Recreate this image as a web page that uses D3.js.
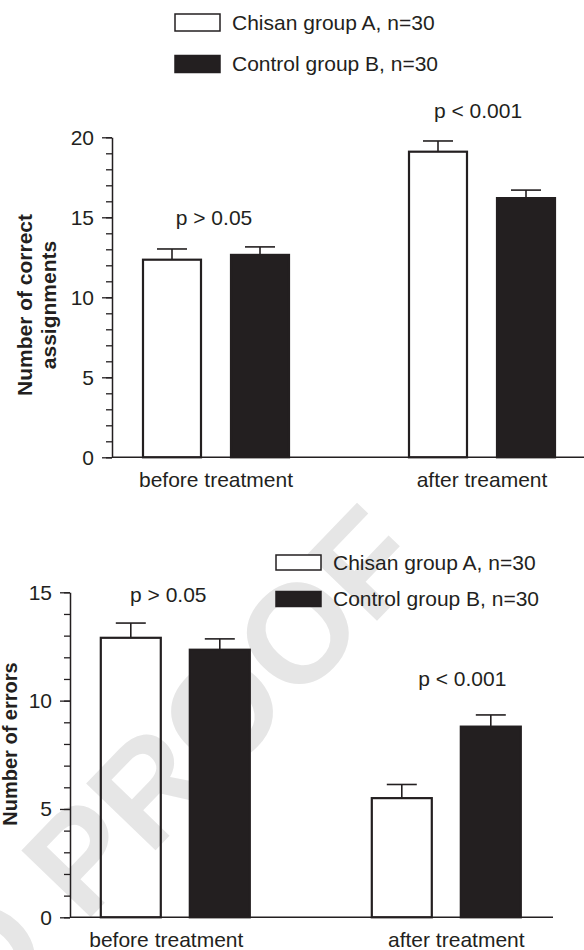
<!DOCTYPE html>
<html>
<head>
<meta charset="utf-8">
<script src="https://cdn.jsdelivr.net/npm/d3@7"></script>
<style>
  body { margin: 0; background: #fff; }
  svg { display: block; font-family: "Liberation Sans", Arial, Helvetica, sans-serif; }
</style>
</head>
<body>
<div id="graphicContainer"></div>
<script>

// series and categories
const series = ["Chisan group A, n=30", "Control group B, n=30"]
const groupsTop = ["before treatment", "after treament"]
const groupsBottom = ["before treatment", "after treatment"]

// number of correct assignments (mean, error)
const correctA = [12.35, 19.1]
const correctB = [12.65, 16.2]
const correctErrA = [0.67, 0.67]
const correctErrB = [0.5, 0.5]

// number of errors (mean, error)
const errorsA = [12.9, 5.5]
const errorsB = [12.35, 8.8]
const errorsErrA = [0.68, 0.63]
const errorsErrB = [0.5, 0.54]

const pTop = ["p > 0.05", "p < 0.001"]
const pBottom = ["p > 0.05", "p < 0.001"]

const ticksTop = [0, 5, 10, 15, 20]
const ticksBottom = [0, 5, 10, 15]

const ink = "#231f20"
const width = 584
const height = 950

const svg = d3.select("#graphicContainer").append("svg")
  .attr("width", width)
  .attr("height", height)

svg.append("rect").attr("width", width).attr("height", height).attr("fill", "#fff")

// proof watermark, sits under everything
svg.append("text")
  .attr("transform", "translate(430,566) rotate(-46)")
  .attr("text-anchor", "end")
  .attr("fill", "#e6e6e6")
  .style("font-size", "140px")
  .style("font-weight", "bold")
  .text("UNCORRECTED PROOF")

function drawPanel(cfg) {

  const g = svg.append("g")

  const y = d3.scaleLinear()
    .domain([0, d3.max(cfg.ticks)])
    .range([cfg.bottom, cfg.top])

  const x0 = d3.scalePoint()
    .domain(cfg.groups)
    .range(cfg.centers)

  const x1 = d3.scaleBand()
    .domain(series)
    .range([-cfg.span / 2, cfg.span / 2])
    .paddingInner(cfg.pad)

  const rows = []
  cfg.groups.forEach((grp, i) => {
    rows.push({ grp, key: series[0], v: cfg.a[i], e: cfg.ea[i] })
    rows.push({ grp, key: series[1], v: cfg.b[i], e: cfg.eb[i] })
  })

  // minor ticks + axis line
  const minor = d3.axisLeft(y)
    .tickValues(d3.range(0, d3.max(cfg.ticks) + 1))
    .tickSize(6)
    .tickSizeOuter(0)
    .tickFormat("")

  const axisG = g.append("g")
    .attr("transform", `translate(${cfg.axisX},0)`)
    .call(minor)

  axisG.select(".domain").attr("stroke", ink).attr("stroke-width", 1.5)
  axisG.selectAll(".tick line").attr("stroke", ink).attr("stroke-width", 1.3)

  const major = d3.axisLeft(y)
    .tickValues(cfg.ticks)
    .tickSize(10)
    .tickPadding(8)

  const majorG = g.append("g")
    .attr("transform", `translate(${cfg.axisX},0)`)
    .call(major)

  majorG.select(".domain").remove()
  majorG.selectAll(".tick line").attr("stroke", ink).attr("stroke-width", 1.3)
  majorG.selectAll(".tick text")
    .attr("fill", ink)
    .style("font-size", "21px")
    .style("font-family", "'Liberation Sans', Arial, sans-serif")

  // baseline
  g.append("line")
    .attr("x1", cfg.axisX)
    .attr("x2", cfg.lineEnd)
    .attr("y1", y(0))
    .attr("y2", y(0))
    .attr("stroke", ink)
    .attr("stroke-width", 1.5)

  // bars
  g.selectAll(".bar")
    .data(rows)
    .enter()
    .append("rect")
    .attr("class", "bar")
    .attr("x", d => x0(d.grp) + x1(d.key))
    .attr("y", d => y(d.v))
    .attr("width", x1.bandwidth())
    .attr("height", d => y(0) - y(d.v))
    .attr("fill", d => d.key == series[0] ? "none" : ink)
    .attr("stroke", ink)
    .attr("stroke-width", 2.2)

  // error bars (upper half only)
  const capHalf = 15
  rows.forEach(d => {
    const cx = x0(d.grp) + x1(d.key) + x1.bandwidth() / 2
    g.append("line")
      .attr("x1", cx).attr("x2", cx)
      .attr("y1", y(d.v)).attr("y2", y(d.v + d.e))
      .attr("stroke", ink).attr("stroke-width", 1.6)
    g.append("line")
      .attr("x1", cx - capHalf).attr("x2", cx + capHalf)
      .attr("y1", y(d.v + d.e)).attr("y2", y(d.v + d.e))
      .attr("stroke", ink).attr("stroke-width", 1.6)
  })

  // category labels
  g.selectAll(".cat")
    .data(cfg.groups)
    .enter()
    .append("text")
    .attr("class", "cat")
    .attr("x", (d, i) => x0(d) + cfg.labelShift[i])
    .attr("y", y(0) + 30)
    .attr("text-anchor", "middle")
    .attr("fill", ink)
    .style("font-size", "21px")
    .text(d => d)

  // p-values above each group
  g.selectAll(".pval")
    .data(cfg.groups)
    .enter()
    .append("text")
    .attr("class", "pval")
    .attr("x", (d, i) => x0(d) + cfg.pShift[i])
    .attr("y", (d, i) => y(Math.max(cfg.a[i] + cfg.ea[i], cfg.b[i] + cfg.eb[i])) - cfg.pGap[i])
    .attr("text-anchor", "middle")
    .attr("fill", ink)
    .style("font-size", "21px")
    .text((d, i) => cfg.p[i])

  // y title
  const titleG = g.append("g")
  cfg.title.forEach((line, i) => {
    titleG.append("text")
      .attr("transform", `translate(${cfg.titleX[i]},${cfg.titleY}) rotate(-90)`)
      .attr("text-anchor", "middle")
      .attr("dy", "0.35em")
      .attr("fill", ink)
      .style("font-size", cfg.titleSize)
      .style("font-weight", "bold")
      .text(line)
  })

  // legend
  const leg = g.append("g")
  series.forEach((key, i) => {
    const ly = cfg.legendY[i]
    leg.append("rect")
      .attr("x", cfg.legendX)
      .attr("y", ly - cfg.legendBox / 2)
      .attr("width", 45)
      .attr("height", cfg.legendBox)
      .attr("fill", i == 0 ? "#fff" : ink)
      .attr("stroke", ink)
      .attr("stroke-width", 1.5)
    leg.append("text")
      .attr("x", cfg.legendX + 57)
      .attr("y", ly)
      .attr("dy", "0.35em")
      .attr("fill", ink)
      .style("font-size", "21px")
      .text(key)
  })

}

drawPanel({
  groups: groupsTop,
  a: correctA, b: correctB, ea: correctErrA, eb: correctErrB,
  p: pTop,
  ticks: ticksTop,
  top: 137.3, bottom: 457.3,
  axisX: 112, lineEnd: 584,
  centers: [216, 482], span: 146, pad: 0.341,
  labelShift: [0, 0], pShift: [-2, -4], pGap: [22, 23],
  title: ["Number of correct", "assignments"], titleX: [25, 49], titleY: 305, titleSize: "21px",
  legendX: 175, legendY: [22.5, 64], legendBox: 17
})

drawPanel({
  groups: groupsBottom,
  a: errorsA, b: errorsB, ea: errorsErrA, eb: errorsErrB,
  p: pBottom,
  ticks: ticksBottom,
  top: 592.3, bottom: 917.3,
  axisX: 70, lineEnd: 553,
  centers: [175.3, 446.3], span: 149, pad: 0.326,
  labelShift: [-9, 10], pShift: [-7, 16], pGap: [21, 29],
  title: ["Number of errors"], titleX: [9.5], titleY: 744, titleSize: "20px",
  legendX: 276, legendY: [562.5, 599], legendBox: 15
})

</script>
</body>
</html>
